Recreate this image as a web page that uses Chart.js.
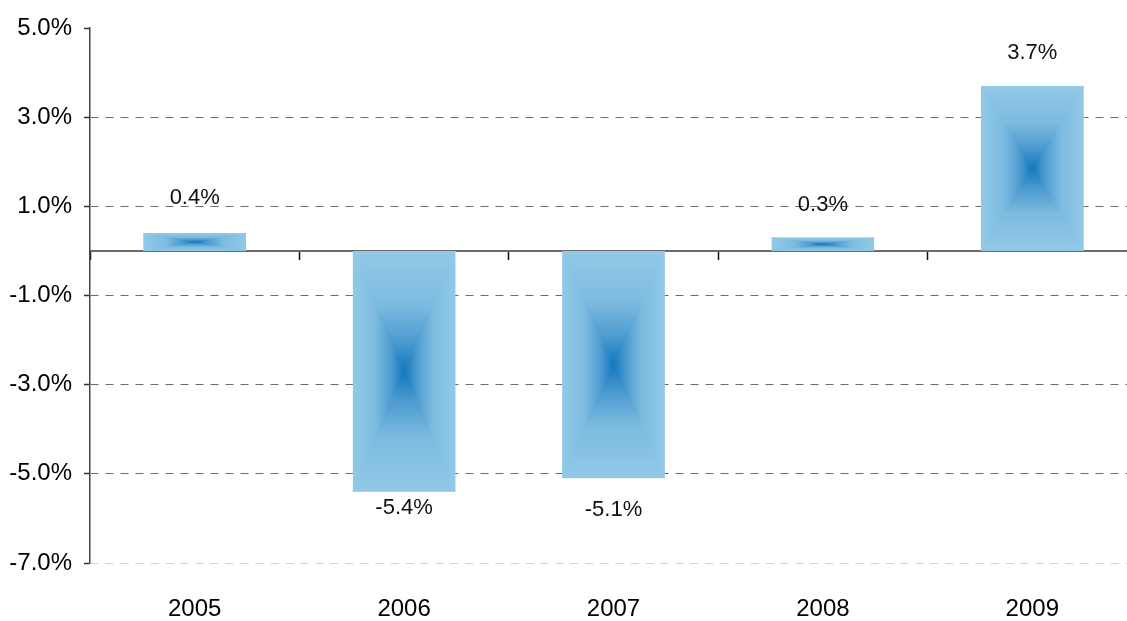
<!DOCTYPE html>
<html>
<head>
<meta charset="utf-8">
<script src="https://cdn.jsdelivr.net/npm/chart.js@4.4.1/dist/chart.umd.min.js"></script>
<style>
	html, body { margin: 0; padding: 0; background: #fff; overflow: hidden; }
	#wrap { width: 1137px; height: 621px; }
</style>
</head>
<body>
<div id="wrap"><canvas id="myChart"></canvas></div>
<script>
// values
const years = ["2005", "2006", "2007", "2008", "2009"];
const change = [0.4, -5.4, -5.1, 0.3, 3.7];
const yTicks = [5, 3, 1, -1, -3, -5, -7];

const fontFamily = '"Liberation Sans Narrow", "Arial Narrow", "Liberation Sans", sans-serif';

// rectangular "from centre" gradient, drawn as four triangles per bar
const barGradient = {
	id: "barGradient",
	afterDatasetsDraw(chart, args, opts) {
		const ctx = chart.ctx;
		chart.getDatasetMeta(0).data.forEach(function (bar) {
			const p = bar.getProps(["x", "y", "base", "width"], true);
			const x0 = p.x - p.width / 2, x1 = p.x + p.width / 2;
			const y0 = Math.min(p.y, p.base), y1 = Math.max(p.y, p.base);
			const xc = p.x, yc = (y0 + y1) / 2;
			function tri(pts, gx0, gy0, gx1, gy1) {
				const g = ctx.createLinearGradient(gx0, gy0, gx1, gy1);
				opts.stops.forEach(s => g.addColorStop(s[0], s[1]));
				ctx.beginPath();
				ctx.moveTo(pts[0][0], pts[0][1]);
				ctx.lineTo(pts[1][0], pts[1][1]);
				ctx.lineTo(pts[2][0], pts[2][1]);
				ctx.closePath();
				ctx.fillStyle = g;
				ctx.strokeStyle = g;
				ctx.lineWidth = 1;
				ctx.fill();
				ctx.stroke();
			}
			ctx.save();
			ctx.beginPath();
			ctx.rect(x0, y0, x1 - x0, y1 - y0);
			ctx.clip();
			tri([[x0, y0], [x0, y1], [xc, yc]], x0, 0, xc, 0);
			tri([[x1, y0], [x1, y1], [xc, yc]], x1, 0, xc, 0);
			tri([[x0, y0], [x1, y0], [xc, yc]], 0, y0, 0, yc);
			tri([[x0, y1], [x1, y1], [xc, yc]], 0, y1, 0, yc);
			ctx.restore();
		});
	}
};

const valueLabels = {
	id: "valueLabels",
	afterDatasetsDraw(chart, args, opts) {
		const ctx = chart.ctx;
		ctx.save();
		ctx.font = opts.size + "px " + fontFamily;
		ctx.fillStyle = "#111";
		ctx.textAlign = "center";
		ctx.textBaseline = "middle";
		chart.getDatasetMeta(0).data.forEach(function (bar, i) {
			const v = change[i];
			const y = v >= 0 ? bar.y - opts.gap[i] : bar.y + opts.gap[i];
			ctx.fillText(v.toFixed(1) + "%", bar.x, y);
		});
		ctx.restore();
	}
};

new Chart(document.getElementById("myChart"), {
	type: "bar",
	data: {
		labels: years,
		datasets: [{
			data: change,
			backgroundColor: "rgba(0,0,0,0)",
			borderWidth: 0,
			barPercentage: 0.49,
			categoryPercentage: 1
		}]
	},
	options: {
		responsive: true,
		maintainAspectRatio: false,
		animation: false,
		layout: { padding: { top: 28, right: 0, bottom: 0, left: 0 } },
		plugins: {
			legend: { display: false },
			tooltip: { enabled: false },
			barGradient: {
				stops: [[0, "#92c9e7"], [0.45, "#7cbbe0"], [0.75, "#4d9bd0"], [1, "#1477be"]]
			},
			valueLabels: { size: 22, gap: [35, 16, 32, 33, 33] }
		},
		scales: {
			x: {
				grid: { display: false },
				border: { display: false },
				ticks: { color: "#000", font: { family: fontFamily, size: 24 }, padding: 24 },
				afterFit(s) { s.height = 58; }
			},
			zero: {
				type: "category",
				axis: "x",
				position: { y: 0 },
				z: 1,
				ticks: { display: false },
				grid: {
					display: true,
					drawOnChartArea: false,
					drawTicks: true,
					tickLength: 8,
					tickColor: "#111",
					tickWidth: 1.5,
					offset: true
				},
				border: { display: true, color: "#6a6a6a", width: 2 }
			},
			y: {
				min: -7,
				max: 5,
				afterBuildTicks(s) { s.ticks = yTicks.map(v => ({ value: v })); },
				ticks: {
					color: "#000",
					font: { family: fontFamily, size: 24 },
					padding: 12,
					callback: v => v.toFixed(1) + "%"
				},
				grid: {
					color: c => c.tick.value === 5 ? "rgba(0,0,0,0)" : (c.tick.value === -7 ? "#d4d4d4" : "#6b6b6b"),
					lineWidth: 1,
					tickLength: 6,
					tickColor: "#333",
					tickWidth: 1.5
				},
				border: { display: true, color: "#444", width: 1.5, dash: [8, 7] },
				afterFit(s) { s.width = 90; }
			}
		}
	},
	plugins: [barGradient, valueLabels]
});
</script>
</body>
</html>
